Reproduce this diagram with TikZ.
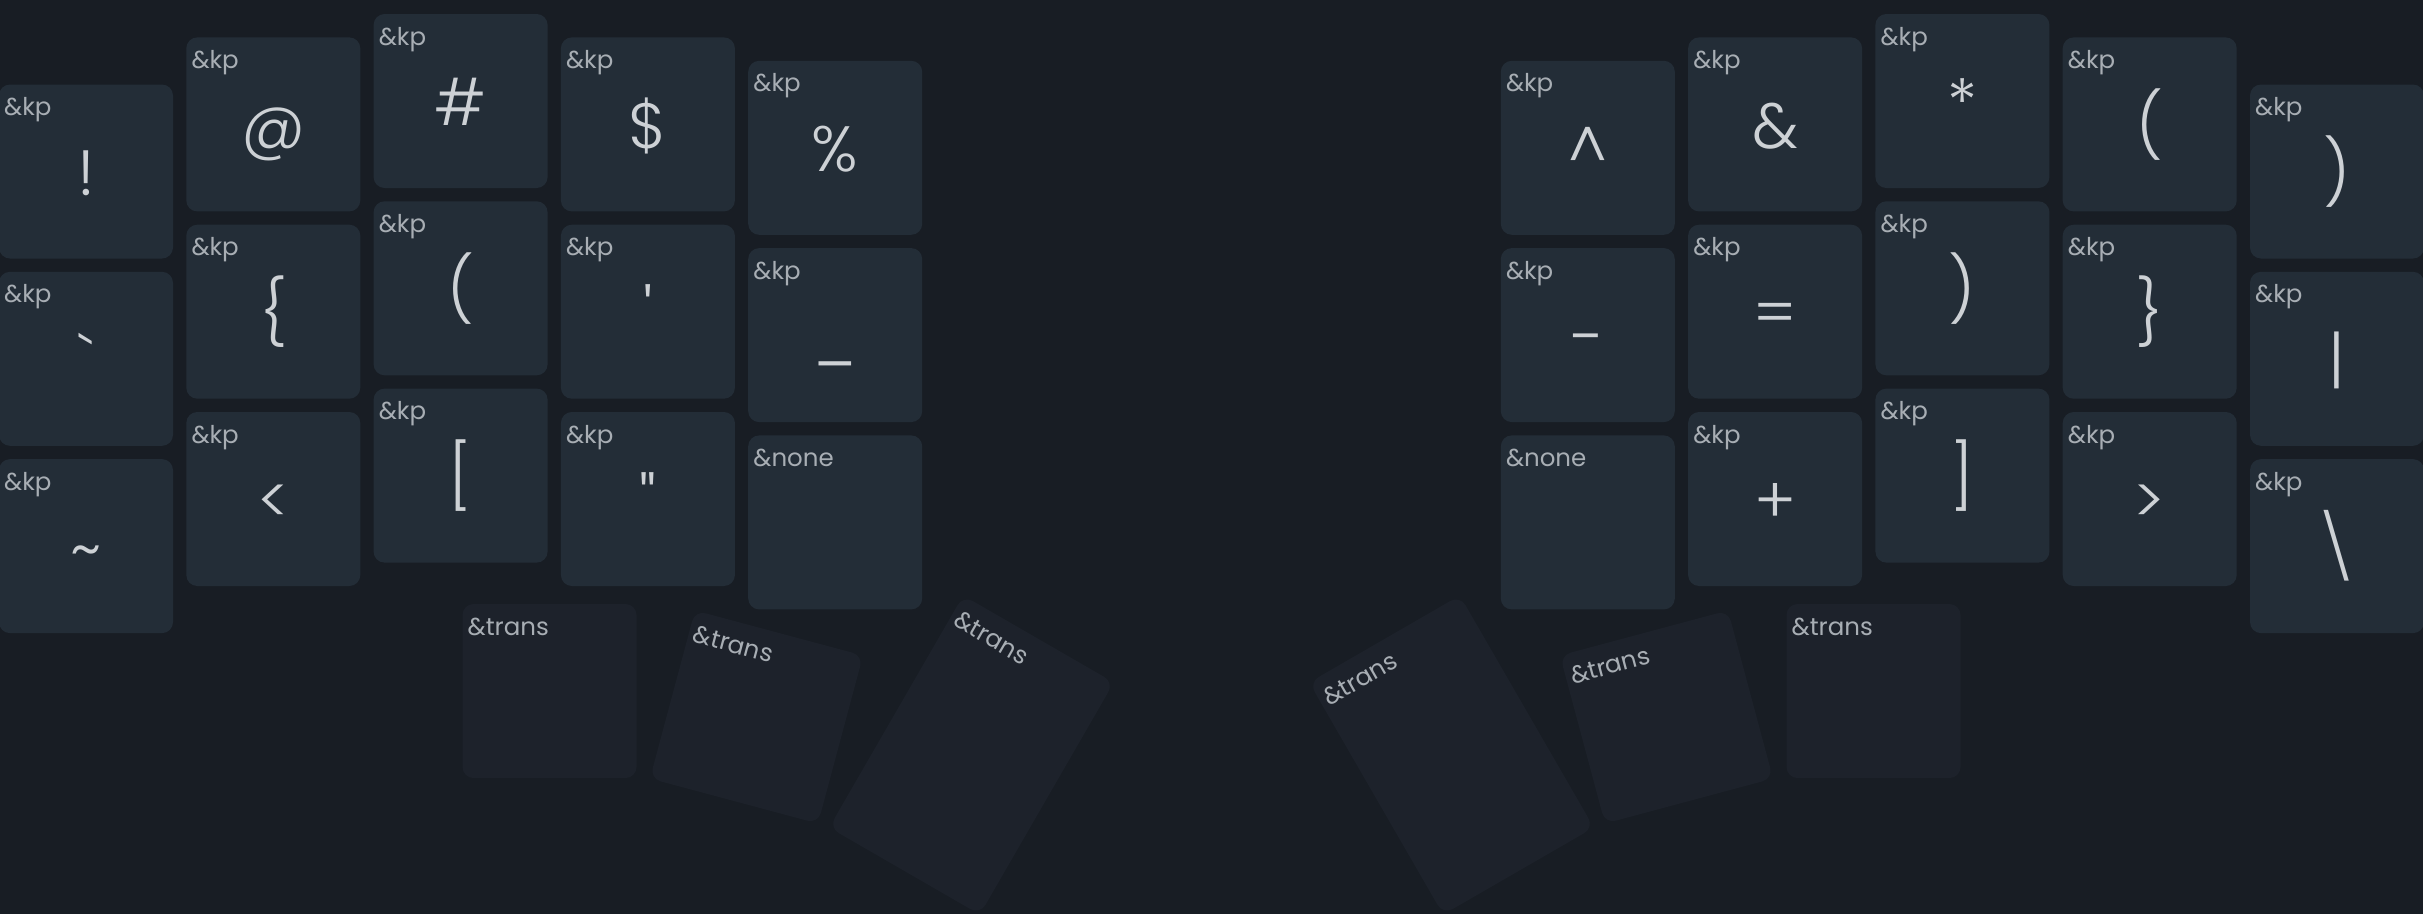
\documentclass[tikz,border=0pt]{standalone}
\usepackage{fontspec}
\newfontfamily\kf{Poppins Light}
\newfontfamily\kfl{Poppins}
\definecolor{bg}{RGB}{24,29,36}
\definecolor{keyfill}{RGB}{35,45,55}
\definecolor{thumbfill}{RGB}{29,34,43}
\definecolor{legendc}{RGB}{205,209,213}
\definecolor{lblc}{RGB}{168,174,180}
\tikzset{
  keybox/.style={rectangle, rounded corners=11pt, draw=none, fill=keyfill,
    minimum width=174pt, minimum height=174pt, inner sep=0pt},
  thumbbox/.style={keybox, fill=thumbfill},
  toplbl/.style={font=\kfl\fontsize{24.5}{24.5}\selectfont, text=lblc, inner sep=0pt, anchor=base west},
  legend/.style={font=\kf\fontsize{64}{64}\selectfont, text=legendc, inner sep=0pt, anchor=base},
}
% name, x, y, angle, height, style, label
\newcommand\kcap[7]{%
  \begin{scope}[shift={(#2,#3)}, rotate=#4, transform shape]
    \node[#6, minimum height=#5pt] (#1) at (0,0) {};
    \node[toplbl] (#1l) at (-82,{-#5/2+31}) {#7};
  \end{scope}}
% name, x, y, legend (straight keys only)
\newcommand\klg[4]{\node[legend] (#1) at (#2,{#3+24}) {#4};}
\begin{document}
\begin{tikzpicture}[x=1pt,y=-1pt]
\fill[bg] (0,0) rectangle (2423,914);
\useasboundingbox (0,0) rectangle (2423,914);
\clip (0,0) rectangle (2423,914);
% left half
\kcap{a0}{86}{171.5}{0}{174}{keybox}{\&kp}
\kcap{a1}{86}{358.8}{0}{174}{keybox}{\&kp}
\kcap{a2}{86}{546.1}{0}{174}{keybox}{\&kp}
\kcap{b0}{273.3}{124.4}{0}{174}{keybox}{\&kp}
\kcap{b1}{273.3}{311.7}{0}{174}{keybox}{\&kp}
\kcap{b2}{273.3}{499.0}{0}{174}{keybox}{\&kp}
\kcap{c0}{460.6}{101}{0}{174}{keybox}{\&kp}
\kcap{c1}{460.6}{288.3}{0}{174}{keybox}{\&kp}
\kcap{c2}{460.6}{475.6}{0}{174}{keybox}{\&kp}
\kcap{d0}{647.9}{124.4}{0}{174}{keybox}{\&kp}
\kcap{d1}{647.9}{311.7}{0}{174}{keybox}{\&kp}
\kcap{d2}{647.9}{499.0}{0}{174}{keybox}{\&kp}
\kcap{e0}{835.2}{147.8}{0}{174}{keybox}{\&kp}
\kcap{e1}{835.2}{335.1}{0}{174}{keybox}{\&kp}
\kcap{e2}{835.2}{522.4}{0}{174}{keybox}{\&none}
\klg{a0g}{86}{171.5}{!}
\klg{a1g}{86}{358.8}{`}
\klg{a2g}{86}{546.1}{\textasciitilde}
\klg{b0g}{273.3}{124.4}{@}
\klg{b1g}{273.3}{311.7}{\{}
\klg{b2g}{273.3}{499.0}{<}
\klg{c0g}{460.6}{101}{\#}
\klg{c1g}{460.6}{288.3}{(}
\klg{c2g}{460.6}{475.6}{[}
\klg{d0g}{647.9}{124.4}{\$}
\klg{d1g}{647.9}{311.7}{'}
\klg{d2g}{647.9}{499.0}{"}
\klg{e0g}{835.2}{147.8}{\%}
\klg{e1g}{835.2}{335.1}{\_}
% left thumbs
\kcap{t1}{549.5}{691}{0}{174}{thumbbox}{\&trans}
\kcap{t2}{756.5}{717}{-15}{174}{thumbbox}{\&trans}
\kcap{t3}{971.5}{755}{-30}{268}{thumbbox}{\&trans}
% right half
\kcap{f0}{1587.8}{147.8}{0}{174}{keybox}{\&kp}
\kcap{f1}{1587.8}{335.1}{0}{174}{keybox}{\&kp}
\kcap{f2}{1587.8}{522.4}{0}{174}{keybox}{\&none}
\kcap{g0}{1775.1}{124.4}{0}{174}{keybox}{\&kp}
\kcap{g1}{1775.1}{311.7}{0}{174}{keybox}{\&kp}
\kcap{g2}{1775.1}{499.0}{0}{174}{keybox}{\&kp}
\kcap{h0}{1962.4}{101}{0}{174}{keybox}{\&kp}
\kcap{h1}{1962.4}{288.3}{0}{174}{keybox}{\&kp}
\kcap{h2}{1962.4}{475.6}{0}{174}{keybox}{\&kp}
\kcap{i0}{2149.7}{124.4}{0}{174}{keybox}{\&kp}
\kcap{i1}{2149.7}{311.7}{0}{174}{keybox}{\&kp}
\kcap{i2}{2149.7}{499.0}{0}{174}{keybox}{\&kp}
\kcap{j0}{2337}{171.5}{0}{174}{keybox}{\&kp}
\kcap{j1}{2337}{358.8}{0}{174}{keybox}{\&kp}
\kcap{j2}{2337}{546.1}{0}{174}{keybox}{\&kp}
\klg{f0g}{1587.8}{147.8}{\textasciicircum}
\klg{f1g}{1587.8}{335.1}{-}
\klg{g0g}{1775.1}{124.4}{\&}
\klg{g1g}{1775.1}{311.7}{=}
\klg{g2g}{1775.1}{499.0}{+}
\klg{h0g}{1962.4}{101}{*}
\klg{h1g}{1962.4}{288.3}{)}
\klg{h2g}{1962.4}{475.6}{]}
\klg{i0g}{2149.7}{124.4}{(}
\klg{i1g}{2149.7}{311.7}{\}}
\klg{i2g}{2149.7}{499.0}{>}
\klg{j0g}{2337}{171.5}{)}
\klg{j1g}{2337}{358.8}{|}
\klg{j2g}{2337}{546.1}{\textbackslash}
% right thumbs
\kcap{u1}{1873.5}{691}{0}{174}{thumbbox}{\&trans}
\kcap{u2}{1666.5}{717}{15}{174}{thumbbox}{\&trans}
\kcap{u3}{1451.5}{755}{30}{268}{thumbbox}{\&trans}
\end{tikzpicture}
\end{document}
